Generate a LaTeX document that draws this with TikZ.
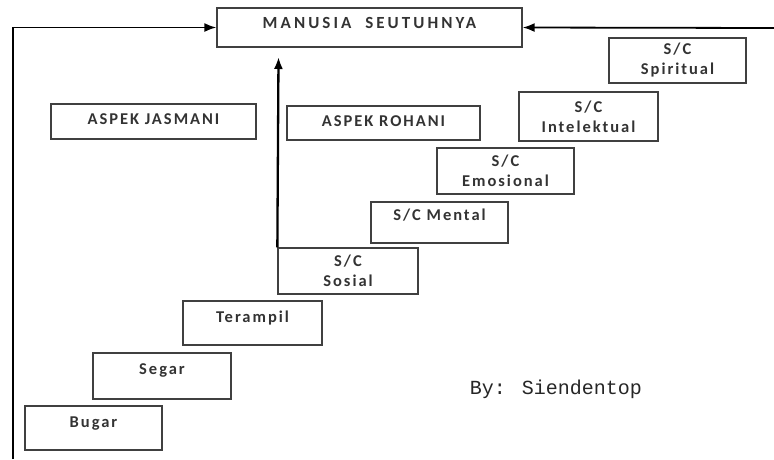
\documentclass[tikz,border=0pt]{standalone}
\usepackage{fontspec}
\setmainfont{Carlito}
\newfontfamily\spaced[LetterSpace=12]{Carlito}
\newfontfamily\widespaced[LetterSpace=18]{Carlito}
\newfontfamily\bymono{Liberation Mono}
\usetikzlibrary{arrows.meta}
\begin{document}
\begin{tikzpicture}[x=1pt,y=-1pt,
  box/.style={draw=black!75,line width=1.3pt,inner sep=0pt,align=center,text=black!80,
    font=\fontsize{16.5}{20}\selectfont\spaced\bfseries},
  lift/.style={text depth=#1},
  link/.style={line width=1.8pt,-{Latex[length=12pt,width=9pt]}}]
\useasboundingbox (0,0) rectangle (774,459);
\node[box,lift=9pt,minimum width=305pt,minimum height=39pt,font=\fontsize{17}{20}\selectfont\widespaced\bfseries] (manusia) at (369.5,27.5) {MANUSIA\ \ SEUTUHNYA};
\node[box,lift=5pt,minimum width=205pt,minimum height=35pt] (jasmani) at (153.5,121.5) {ASPEK JASMANI};
\node[box,lift=4pt,minimum width=193pt,minimum height=34pt] (rohani) at (383.5,123) {ASPEK ROHANI};
\node[box,minimum width=137pt,minimum height=45pt] (spiritual) at (677.5,60.5) {S/C\\Spiritual};
\node[box,minimum width=139pt,minimum height=49pt] (intelektual) at (588.5,116.5) {S/C\\Intelektual};
\node[box,minimum width=137pt,minimum height=46pt] (emosional) at (505.5,171) {S/C\\Emosional};
\node[box,lift=15pt,minimum width=137pt,minimum height=41pt] (mental) at (439.5,222.5) {S/C Mental};
\node[box,minimum width=140pt,minimum height=46pt] (sosial) at (348,271) {S/C\\Sosial};
\node[box,lift=12pt,minimum width=139pt,minimum height=44pt] (terampil) at (252.5,323) {Terampil};
\node[box,lift=14pt,minimum width=138pt,minimum height=46pt] (segar) at (162,376) {Segar};
\node[box,lift=12pt,minimum width=137pt,minimum height=44pt] (bugar) at (93.5,428) {Bugar};
\node[text=black!85,font=\fontsize{20}{22}\selectfont\bymono] (by) at (556,389) {By: Siendentop};
\coordinate (lb) at (13,459);
\coordinate (re) at (774,28);
\coordinate (tip) at (278.5,57);
\draw[link] (lb) |- (manusia.west);
\draw[link] (re) -- (manusia.east);
\draw[link,line width=2.3pt] (sosial.north west) -- (tip);
\end{tikzpicture}
\end{document}
